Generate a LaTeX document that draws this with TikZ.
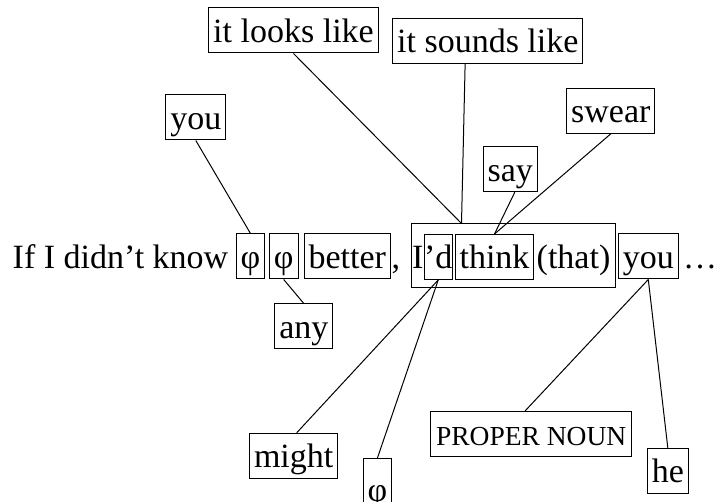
\documentclass[tikz,border=0pt]{standalone}
\usepackage{fontspec}
\setmainfont{Liberation Serif}
\usetikzlibrary{calc}
\begin{document}
\begin{tikzpicture}[x=1pt,y=-1pt,
  wbox/.style={draw, line width=1pt, inner xsep=4.5pt, inner ysep=0pt, minimum height=45pt,
    text height=31pt, text depth=7pt, font=\fontsize{34}{40}\selectfont, anchor=center},
  plain/.style={inner sep=0pt, font=\fontsize{34}{40}\selectfont, anchor=base west},
  link/.style={line width=1pt}]
\useasboundingbox (0,0) rectangle (715,502);

% main line
\node[plain, anchor=base east] (pre) at (228.5,268.5) {If I didn’t know};
\node[wbox, minimum width=27.6pt] (phi1) at (250.5,256.5) {φ};
\node[wbox, minimum width=27.3pt] (phi2) at (283.7,256.5) {φ};
\node[wbox] (better) at (347.2,256.5) {better};
\node[plain] (comma) at (391.5,268.5) {,};
\node[draw, line width=1pt, minimum width=204pt, minimum height=64pt, inner sep=0pt] (big) at (513,256) {};
\node[plain] (I) at (412,268.5) {I};
\node[wbox, inner xsep=0pt] (d) at (438.2,257) {’d};
\node[wbox] (think) at (494.5,257) {think};
\node[plain] (that) at (536.5,268.5) {(that)};
\node[wbox] (you2) at (648.3,256.5) {you};
\node[plain] (dots) at (683,268.5) {…};

% upper alternatives
\node[wbox] (looks) at (293.5,30.5) {it looks like};
\node[wbox] (sounds) at (487.8,40.8) {it sounds like};
\node[wbox] (you1) at (195.8,117.5) {you};
\node[wbox] (swear) at (610.8,110.8) {swear};
\node[wbox] (say) at (510.3,169.2) {say};

% lower alternatives
\node[wbox] (any) at (303.8,326.5) {any};
\node[wbox] (might) at (293.7,455.8) {might};
\node[wbox, minimum width=28.4pt, text height=40pt, minimum height=54pt] (phib) at (377.5,485.3) {φ};
\node[wbox, font=\fontsize{27.5}{32}\selectfont, minimum width=200.5pt] (pn) at (531.2,433.8) {PROPER NOUN};
\node[wbox] (he) at (667.8,470.8) {he};

% attachment points
\coordinate (bt) at ($(big.north west)+(51,0)$);
\coordinate (sb) at ($(sounds.south west)+(73,0)$);
\coordinate (sayb) at ($(say.south)+(4.5,0)$);
\coordinate (pnt) at ($(pn.north)+(-6,0)$);
\coordinate (mt) at ($(might.north)+(3,0)$);

% connectors
\draw[link] (looks.south) -- (bt);
\draw[link] (sb) -- (bt);
\draw[link] (you1.south) -- (phi1.north);
\draw[link] (phi2.south) -- (any.north);
\draw[link] (sayb) -- (think.north);
\draw[link] (swear.south) -- (think.north);
\draw[link] (d.south) -- (mt);
\draw[link] (d.south) -- (phib.north);
\draw[link] (you2.south) -- (pnt);
\draw[link] (you2.south) -- (he.north);
\end{tikzpicture}
\end{document}
